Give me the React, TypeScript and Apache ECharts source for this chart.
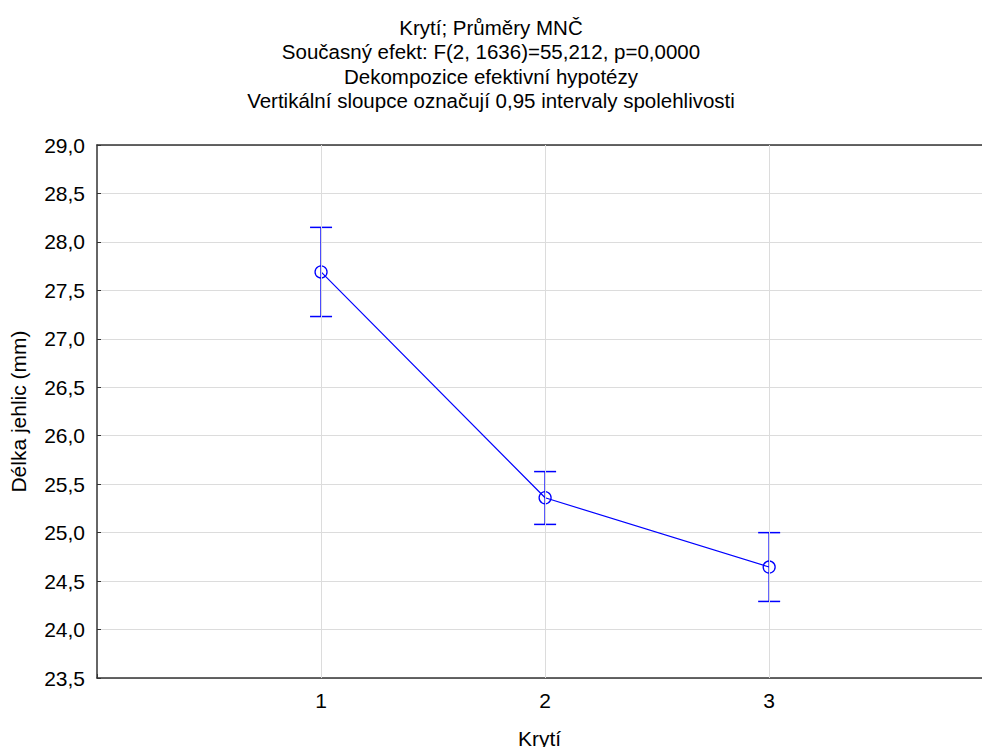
import React, { useEffect, useRef } from "react";
import * as echarts from "echarts";

const categories = [1, 2, 3];
const means = [27.69, 25.36, 24.645];
const upper = [28.15, 25.63, 25.0];
const lower = [27.23, 25.085, 24.29];
const titleLines = [
  "Krytí; Průměry MNČ",
  "Současný efekt: F(2, 1636)=55,212, p=0,0000",
  "Dekompozice efektivní hypotézy",
  "Vertikální sloupce označují 0,95 intervaly spolehlivosti",
];
const titleY = [26, 50.5, 75, 99.5];

const FONT = "Liberation Sans, Arial, sans-serif";
const BLUE = "#0000ff";
const GRID = "#dcdcdc";

export default function App() {
  const ref = useRef<HTMLDivElement>(null);
  useEffect(() => {
    if (!ref.current) return;
    const chart = echarts.init(ref.current, null, { renderer: "svg" });
    const lineData = categories.map((c, i) => [c, means[i]]);
    const errData = categories.map((c, i) => [c, lower[i], upper[i]]);
    chart.setOption({
      animation: false,
      backgroundColor: "#fff",
      graphic: titleLines.map((t, i) => ({
        type: "text",
        x: 491,
        y: titleY[i] + 1,
        style: {
          text: t,
          fontFamily: FONT,
          fontSize: 20.5,
          fill: "#000",
          textAlign: "center",
          textVerticalAlign: "middle",
        },
      })),
      grid: {
        show: false,
        left: 97,
        right: 0,
        top: 145,
        bottom: 69,
        containLabel: false,
        outerBoundsMode: "none",
      },
      xAxis: [
        {
          type: "value",
          min: 0,
          max: 3.95,
          interval: 1,
          name: "Krytí",
          nameLocation: "middle",
          nameGap: 50,
          nameTextStyle: { fontFamily: FONT, fontSize: 21, color: "#000" },
          axisLine: { show: true, onZero: false, lineStyle: { color: "#333", width: 1.5 } },
          axisTick: { show: true, inside: true, length: 4, lineStyle: { color: "#333" } },
          axisLabel: {
            fontFamily: FONT,
            fontSize: 21,
            color: "#000",
            margin: 12,
            showMaxLabel: false,
            formatter: (v: number) => (v >= 1 && v <= 3 ? String(v) : ""),
          },
          splitLine: { show: false },
        },
        {
          type: "value",
          position: "top",
          min: 0,
          max: 3.95,
          interval: 1,
          axisLine: { show: true, onZero: false, lineStyle: { color: "#333", width: 1.5 } },
          axisTick: { show: false },
          axisLabel: { show: false },
          splitLine: { show: false },
        },
      ],
      yAxis: {
        type: "value",
        min: 23.5,
        max: 29,
        interval: 0.5,
        name: "Délka jehlic (mm)",
        nameLocation: "middle",
        nameGap: 68,
        nameRotate: 90,
        nameTextStyle: { fontFamily: FONT, fontSize: 21, color: "#000" },
        axisLine: { show: true, lineStyle: { color: "#333", width: 1.5 } },
        axisTick: { show: true, inside: true, length: 4, lineStyle: { color: "#333" } },
        axisLabel: {
          fontFamily: FONT,
          fontSize: 21,
          color: "#000",
          margin: 12,
          formatter: (v: number) => v.toFixed(1).replace(".", ","),
        },
        splitLine: { show: true, lineStyle: { color: GRID, width: 1 } },
      },
      series: [
        {
          type: "line",
          data: [],
          z: 1,
          silent: true,
          markLine: {
            silent: true,
            symbol: "none",
            label: { show: false },
            lineStyle: { color: GRID, width: 1, type: "solid" },
            data: categories.map((c) => ({ xAxis: c })),
          },
        },
        {
          type: "line",
          data: lineData,
          symbol: "circle",
          symbolSize: 12,
          showSymbol: true,
          itemStyle: { color: "transparent", borderColor: BLUE, borderWidth: 1.3 },
          lineStyle: { color: BLUE, width: 1.2 },
          z: 3,
        },
        {
          type: "custom",
          data: errData,
          z: 4,
          renderItem: (params: any, api: any) => {
            const x = api.value(0);
            const lo = api.coord([x, api.value(1)]);
            const hi = api.coord([x, api.value(2)]);
            const hw = 11;
            const style = { stroke: BLUE, lineWidth: 1.5, fill: "none" };
            return {
              type: "group",
              children: [
                { type: "line", shape: { x1: hi[0], y1: hi[1], x2: lo[0], y2: lo[1] }, style },
                { type: "line", shape: { x1: hi[0] - hw, y1: hi[1], x2: hi[0] + hw, y2: hi[1] }, style },
                { type: "line", shape: { x1: lo[0] - hw, y1: lo[1], x2: lo[0] + hw, y2: lo[1] }, style },
              ],
            };
          },
        },
      ],
    });
    return () => chart.dispose();
  }, []);
  return <div ref={ref} style={{ width: 982, height: 747, position: "absolute", left: 0, top: 0 }} />;
}
